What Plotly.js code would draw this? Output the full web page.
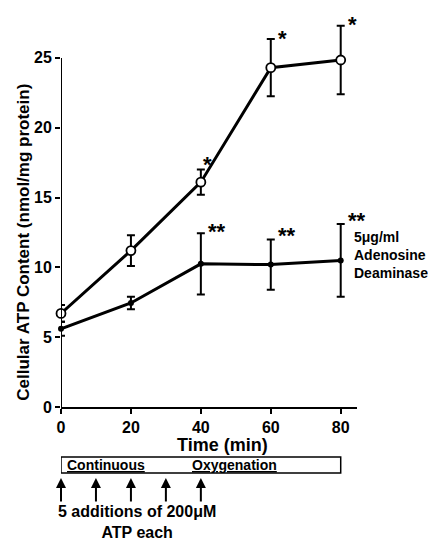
<!DOCTYPE html>
<html>
<head>
<meta charset="utf-8">
<script src="https://cdn.plot.ly/plotly-3.0.1.min.js"></script>
<style>html,body{margin:0;padding:0;background:#fff;}#chart{width:428px;height:542px;}</style>
</head>
<body>
<div id="chart"></div>
<script>
// Data
const timeMin = [0, 20, 40, 60, 80];
const controlATP = [6.7, 11.2, 16.1, 24.3, 24.85];
const controlErr = [0.6, 1.1, 0.9, 2.05, 2.45];
const adaATP = [5.6, 7.45, 10.25, 10.2, 10.5];
const adaErr = [0.5, 0.45, 2.2, 1.8, 2.6];
const controlSig = ["", "", "*", "*", "*"];
const adaSig = ["", "", "**", "**", "**"];
const additionTimes = [0, 10, 20, 30, 40];
const yTicks = [0, 5, 10, 15, 20, 25];
const xTicks = [0, 20, 40, 60, 80];

const FONT = "Liberation Sans, Arial, sans-serif";
const black = "#000";

const traces = [
  {
    x: timeMin, y: adaATP, type: "scatter", mode: "lines+markers",
    line: {color: black, width: 3},
    marker: {color: black, size: 6},
    error_y: {type: "data", array: adaErr, visible: true, color: black, thickness: 2, width: 4},
    cliponaxis: false, showlegend: false, hoverinfo: "skip"
  },
  {
    x: timeMin, y: controlATP, type: "scatter", mode: "lines+markers",
    line: {color: black, width: 3},
    marker: {color: "#fff", size: 9, line: {color: black, width: 1.8}},
    error_y: {type: "data", array: controlErr, visible: true, color: black, thickness: 2, width: 4},
    cliponaxis: false, showlegend: false, hoverinfo: "skip"
  }
];

const annotations = [];
// significance stars
timeMin.forEach((t, i) => {
  if (controlSig[i]) {
    annotations.push({x: t, y: controlATP[i] + controlErr[i], xref: "x", yref: "y",
      text: "<b>" + controlSig[i] + "</b>", showarrow: false, xanchor: "center", yanchor: "middle",
      xshift: i === 2 ? 7 : 12, yshift: (i === 2 ? 10 : 6) - 5,
      font: {family: FONT, size: 22, color: black}});
  }
  if (adaSig[i]) {
    annotations.push({x: t, y: adaATP[i] + adaErr[i], xref: "x", yref: "y",
      text: "<b>" + adaSig[i] + "</b>", showarrow: false, xanchor: "center", yanchor: "middle",
      xshift: 16, yshift: (i === 2 ? 5 : 7) - 3,
      font: {family: FONT, size: 22, color: black}});
  }
});
// series label
annotations.push({x: timeMin[4], y: adaATP[4], xref: "x", yref: "y", xshift: 11, yshift: 5,
  text: "<b>5\u03bcg/ml<br>Adenosine<br>Deaminase</b>", showarrow: false,
  xanchor: "left", yanchor: "middle", align: "left",
  font: {family: FONT, size: 14, color: black}});
// axis titles
annotations.push({x: 46.1, y: -0.097, xref: "x", yref: "paper", text: "<b>Time (min)</b>",
  showarrow: false, xanchor: "center", yanchor: "middle", font: {family: FONT, size: 18, color: black}});
annotations.push({x: -0.126, y: 0.422, xref: "paper", yref: "paper", textangle: -90,
  text: "<b>Cellular ATP Content (nmol/mg protein)</b>", showarrow: false,
  xanchor: "center", yanchor: "middle", font: {family: FONT, size: 17, color: black}});
// oxygenation bar text
annotations.push({x: 0, y: -0.1483, xref: "x", yref: "paper", xshift: 4,
  text: "<b><u>Continuous</u></b>", showarrow: false, xanchor: "left", yanchor: "middle",
  font: {family: FONT, size: 14, color: black}});
annotations.push({x: 37, y: -0.1483, xref: "x", yref: "paper",
  text: "<b><u>Oxygenation</u></b>", showarrow: false, xanchor: "left", yanchor: "middle",
  font: {family: FONT, size: 14, color: black}});
// ATP addition arrows
additionTimes.forEach(t => {
  annotations.push({x: t, y: -0.1816, xref: "x", yref: "paper", text: "", showarrow: true,
    ax: 0, ay: 25, arrowhead: 2, arrowsize: 1, arrowwidth: 2, arrowcolor: black});
});
annotations.push({x: 21.6, y: -0.293, xref: "x", yref: "paper",
  text: "<b>5 additions of 200\u03bcM<br>ATP each</b>", showarrow: false,
  xanchor: "center", yanchor: "middle", align: "center",
  font: {family: FONT, size: 16, color: black}});

const tickFont = {family: FONT, size: 16, color: black, weight: 700};

const layout = {
  width: 428, height: 542,
  margin: {l: 61, r: 71, t: 16, b: 135},
  paper_bgcolor: "#fff", plot_bgcolor: "#fff",
  font: {family: FONT, color: black},
  showlegend: false,
  xaxis: {range: [0, 84.66], showgrid: false, zeroline: false, showline: true, linewidth: 2,
    linecolor: black, ticks: "outside", ticklen: 5, tickwidth: 2, tickcolor: black,
    tickvals: xTicks, ticktext: xTicks.map(String), tickfont: tickFont},
  xaxis2: {range: [0, 84.66], overlaying: "x", anchor: "y", showgrid: false, zeroline: false,
    showline: false, ticks: "inside", ticklen: 5, tickwidth: 2, tickcolor: black,
    tickvals: xTicks, showticklabels: false},
  yaxis: {range: [0, 28], showgrid: false, zeroline: false, showline: false,
    ticks: "outside", ticklen: 5, tickwidth: 2, tickcolor: black,
    tickvals: yTicks, ticktext: yTicks.map(String), tickfont: tickFont},
  yaxis2: {range: [0, 28], overlaying: "y", anchor: "x", side: "left", showgrid: false, zeroline: false,
    showline: false, ticks: "inside", ticklen: 5, tickwidth: 2, tickcolor: black,
    tickvals: yTicks, showticklabels: false},
  shapes: [
    {type: "line", xref: "x", yref: "y", x0: 0, x1: 0, y0: 0, y1: yTicks[yTicks.length - 1],
      line: {color: black, width: 2}},
    {type: "rect", xref: "x", yref: "paper", x0: 0, x1: 80, y0: -0.1279, y1: -0.1688,
      line: {color: black, width: 1.5}}
  ],
  annotations: annotations
};

Plotly.newPlot("chart", traces, layout, {staticPlot: true, displayModeBar: false});
</script>
</body>
</html>
